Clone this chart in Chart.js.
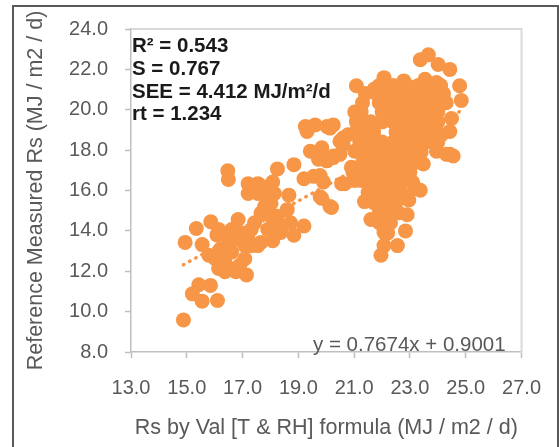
<!DOCTYPE html>
<html>
<head>
<meta charset="utf-8">
<script src="https://cdn.jsdelivr.net/npm/chart.js@4.4.1/dist/chart.umd.min.js"></script>
<style>
  html, body { margin: 0; padding: 0; background: #fff; }
  #wrap { position: relative; width: 559px; height: 447px; }
  #frame {
    position: absolute; left: 12px; top: 5px; width: 543px; height: 460px;
    border: 2px solid #595959; pointer-events: none;
  }
</style>
</head>
<body>
<div id="wrap">
  <canvas id="chart" width="559" height="447"></canvas>
  <div id="frame"></div>
</div>
<script>
// x = Rs by Val formula, y = reference measured Rs (MJ / m2 / d)
const lowerCluster = [
  [14.88, 9.59], [15.20, 10.88], [15.43, 11.33], [15.55, 10.52], [15.85, 11.30], [16.10, 10.55],
  [14.94, 13.43], [15.34, 14.12], [15.55, 13.32], [15.86, 14.45], [16.08, 13.80], [15.79, 12.79],
  [16.14, 12.14], [16.37, 11.98], [16.76, 11.98], [17.14, 11.82], [16.72, 12.14], [16.02, 12.62],
  [16.37, 12.62], [17.08, 12.62], [16.61, 12.95], [16.20, 13.10], [16.49, 13.59], [16.84, 13.59],
  [17.20, 13.59], [17.08, 13.27], [17.55, 13.27], [17.31, 13.27], [16.61, 14.07], [16.14, 14.07],
  [17.31, 14.07], [16.84, 14.56], [17.43, 14.40], [17.66, 14.88], [17.90, 15.53], [17.90, 15.05],
  [18.25, 14.72], [17.20, 15.85], [17.55, 15.85], [18.14, 15.85], [17.20, 16.34], [17.55, 16.34],
  [18.08, 16.42], [16.47, 16.98], [16.49, 16.55], [17.79, 15.21], [18.02, 14.72], [17.90, 14.07],
  [17.66, 13.43], [18.37, 13.92], [18.08, 13.51], [18.60, 15.05], [18.66, 15.77], [17.72, 16.18],
  [18.02, 15.37], [18.25, 14.40], [16.90, 12.30], [17.00, 13.90]
];

const middleCluster = [
  [18.25, 17.07], [18.84, 17.28], [19.20, 16.58], [19.55, 16.70], [19.78, 16.74], [19.90, 16.42],
  [20.55, 16.34], [19.78, 15.69], [20.13, 15.21], [19.84, 15.61], [20.19, 15.16], [19.20, 14.24],
  [18.84, 13.78], [18.72, 14.40], [19.25, 19.17], [19.60, 19.25], [20.02, 19.17], [20.13, 19.09],
  [19.31, 18.92], [19.43, 17.95], [19.84, 18.12], [20.25, 17.71], [19.72, 17.55], [20.02, 17.47],
  [20.25, 17.63], [20.49, 18.44], [20.60, 18.60], [20.60, 18.28], [20.96, 16.90], [21.02, 16.50],
  [20.49, 17.79], [20.25, 19.25], [20.66, 16.34], [20.90, 17.15]
];

const upperCluster = [
  // outline
  [23.66, 22.72], [23.37, 22.48], [24.01, 22.24], [24.43, 22.00], [24.78, 21.19], [24.84, 20.46],
  [24.19, 20.62], [24.49, 19.57], [24.43, 18.92], [23.78, 21.19], [21.08, 21.19], [22.07, 21.59],
  [21.72, 21.03], [22.78, 21.43], [23.54, 21.51], [23.95, 21.35], [21.02, 19.89], [20.78, 18.76],
  [21.08, 19.41], [21.07, 18.92], [21.02, 17.95], [24.43, 17.79], [24.55, 17.71], [23.95, 17.95],
  [24.31, 17.79], [23.48, 17.31], [23.37, 16.01], [23.19, 16.10], [22.96, 15.53], [22.90, 14.80],
  [22.84, 14.00], [22.55, 13.27], [22.07, 13.27], [21.96, 12.79], [22.07, 13.92], [21.60, 14.56],
  [21.37, 15.45], [21.25, 16.50], [24.13, 18.76],
  // interior
  [21.9, 21.2], [22.4, 21.2], [22.9, 21.2], [23.3, 21.2], [23.7, 21.1], [24.1, 21.2],
  [21.4, 20.8], [21.8, 20.8], [22.2, 20.8], [22.6, 20.8], [23.0, 20.8], [23.4, 20.8], [23.8, 20.8], [24.2, 20.8],
  [21.3, 20.35], [21.9, 20.35], [22.3, 20.35], [22.7, 20.35], [23.1, 20.35], [23.5, 20.35], [23.9, 20.35], [24.3, 20.35],
  [21.25, 19.9], [22.0, 19.9], [22.4, 19.9], [22.8, 19.9], [23.2, 19.9], [23.6, 19.9], [24.0, 19.9],
  [21.2, 19.4], [21.6, 19.4], [22.0, 19.4], [22.4, 19.4], [22.8, 19.4], [23.2, 19.4], [23.6, 19.4], [24.0, 19.4],
  [21.3, 18.9], [21.7, 18.9], [22.5, 18.9], [22.9, 18.9], [23.3, 18.9], [23.7, 18.9],
  [21.2, 18.4], [21.6, 18.4], [22.0, 18.4], [22.4, 18.4], [22.8, 18.4], [23.2, 18.4], [23.6, 18.4], [24.0, 18.4],
  [21.4, 17.9], [21.8, 17.9], [22.2, 17.9], [22.6, 17.9], [23.0, 17.9], [23.4, 17.9],
  [21.3, 17.4], [21.7, 17.4], [22.1, 17.4], [22.5, 17.4], [22.9, 17.4], [23.2, 17.4],
  [21.4, 16.9], [21.8, 16.9], [22.2, 16.9], [22.6, 16.9], [23.0, 16.9],
  [21.5, 16.4], [21.9, 16.4], [22.3, 16.4], [22.7, 16.4], [23.1, 16.4],
  [21.5, 15.9], [21.9, 15.9], [22.3, 15.9], [22.7, 15.9],
  [21.7, 15.4], [22.1, 15.4], [22.5, 15.4],
  [21.9, 14.9], [22.3, 14.9], [22.6, 14.9],
  [21.9, 14.4], [22.3, 14.4], [22.2, 13.9]
];

// linear trendline end points (y = 0.7674x + 0.9001)
const trendX = [14.88, 24.84];
const trendY = [12.32, 19.96];

const xTicks = [13, 15, 17, 19, 21, 23, 25, 27];
const yTicks = [8, 10, 12, 14, 16, 18, 20, 22, 24];

const statLines = ['R² = 0.543', 'S = 0.767', 'SEE = 4.412 MJ/m²/d', 'rt = 1.234'];
const equationText = 'y = 0.7674x + 0.9001';

const ORANGE = '#F79646';
const GREY_TEXT = '#595959';
const AXIS_GREY = '#bfbfbf';
const FONT = "'Liberation Sans', Arial, sans-serif";

const points = [...lowerCluster, ...middleCluster, ...upperCluster].map(([x, y]) => ({ x, y }));
const trend = trendX.map((x, i) => ({ x, y: trendY[i] }));

const overlay = {
  id: 'overlay',
  beforeDatasetsDraw(chart) {
    const { ctx, chartArea: a } = chart;
    ctx.save();
    ctx.strokeStyle = '#d9d9d9';
    ctx.lineWidth = 2;
    ctx.beginPath();
    ctx.moveTo(a.left, a.top);
    ctx.lineTo(a.right, a.top);
    ctx.lineTo(a.right, a.bottom);
    ctx.stroke();
    ctx.restore();
  },
  afterDatasetsDraw(chart) {
    const { ctx } = chart;
    ctx.save();
    ctx.fillStyle = '#1a1a1a';
    ctx.font = `bold 20.5px ${FONT}`;
    ctx.textAlign = 'left';
    ctx.textBaseline = 'alphabetic';
    statLines.forEach((t, i) => ctx.fillText(t, 132, 52 + i * 22.8));
    ctx.fillStyle = GREY_TEXT;
    ctx.font = `20.5px ${FONT}`;
    ctx.fillText(equationText, 313, 351);
    ctx.restore();
  }
};

new Chart(document.getElementById('chart'), {
  type: 'scatter',
  data: {
    datasets: [
      {
        data: points,
        backgroundColor: ORANGE,
        borderColor: ORANGE,
        borderWidth: 0,
        pointRadius: 7.5,
        pointHoverRadius: 7.5,
        order: 1,
      },
      {
        type: 'line',
        data: trend,
        borderColor: ORANGE,
        borderWidth: 3.5,
        borderDash: [0.5, 6.5],
        borderCapStyle: 'round',
        pointRadius: 0,
        fill: false,
        order: 2,
      },
    ],
  },
  options: {
    responsive: false,
    animation: false,
    devicePixelRatio: 1,
    layout: { padding: { top: 22, right: 31, left: 0, bottom: 0 } },
    plugins: { legend: { display: false }, tooltip: { enabled: false } },
    scales: {
      x: {
        type: 'linear',
        min: 13,
        max: 27,
        afterFit: (s) => { s.height = 95; },
        afterBuildTicks: (s) => { s.ticks = xTicks.map((v) => ({ value: v })); },
        border: { color: AXIS_GREY, width: 1.5 },
        grid: { drawOnChartArea: false, drawTicks: true, tickLength: 6, tickColor: AXIS_GREY, tickWidth: 1.5 },
        ticks: {
          color: GREY_TEXT,
          font: { family: FONT, size: 20 },
          padding: 18,
          maxRotation: 0,
          callback: (v) => Number(v).toFixed(1),
        },
        title: {
          display: true,
          text: 'Rs by Val [T & RH] formula (MJ / m2 / d)',
          color: GREY_TEXT,
          font: { family: FONT, size: 21.5 },
          padding: { top: 0, bottom: 6 },
        },
      },
      y: {
        type: 'linear',
        min: 8,
        max: 24,
        afterFit: (s) => { s.width = 131; },
        afterBuildTicks: (s) => { s.ticks = yTicks.map((v) => ({ value: v })); },
        border: { color: AXIS_GREY, width: 1.5 },
        grid: { drawOnChartArea: false, drawTicks: true, tickLength: 6, tickColor: AXIS_GREY, tickWidth: 1.5 },
        ticks: {
          color: GREY_TEXT,
          font: { family: FONT, size: 20 },
          padding: 17,
          callback: (v) => Number(v).toFixed(1),
        },
        title: {
          display: true,
          text: 'Reference Measured Rs (MJ / m2 / d)',
          color: GREY_TEXT,
          font: { family: FONT, size: 21.5 },
          padding: { top: 23, bottom: 0 },
        },
      },
    },
  },
  plugins: [overlay],
});
</script>
</body>
</html>
